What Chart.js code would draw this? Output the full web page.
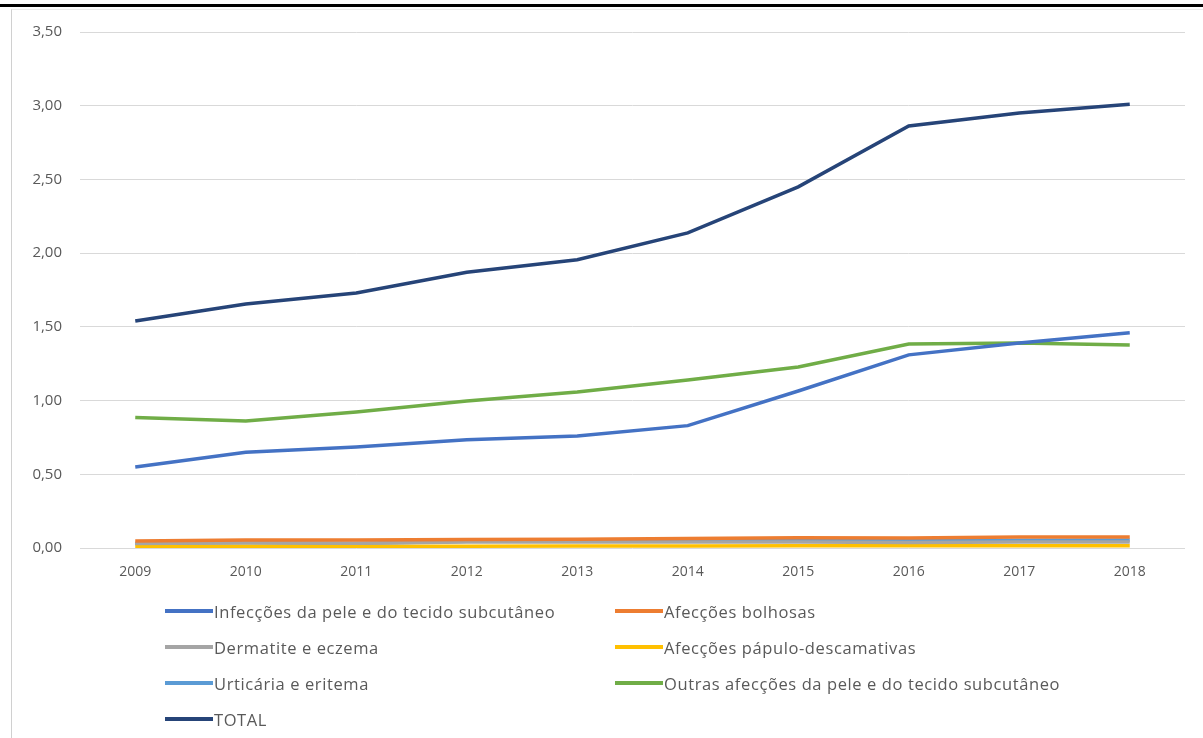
<!DOCTYPE html>
<html>
<head>
<meta charset="utf-8">
<script src="https://cdn.jsdelivr.net/npm/chart.js@4/dist/chart.umd.min.js"></script>
<style>
  html, body { margin:0; padding:0; background:#fff; }
  body { width:1203px; height:738px; position:relative; overflow:hidden; font-family:"Open Sans", sans-serif; }
  #topbar { position:absolute; left:0; top:4px; width:1203px; height:3px; background:#000; }
  #frame { position:absolute; left:11px; top:9px; width:1200px; height:740px; border-left:1px solid #d0d0d0; border-top:1px solid #ececec; }
  #wrap { position:absolute; left:0; top:0; width:1203px; height:738px; }
  #legend { position:absolute; left:0; top:0; width:1203px; height:738px; pointer-events:none; }
  .item { position:absolute; height:22px; display:flex; align-items:center; color:#595959; font-size:16.5px; letter-spacing:0.6px; white-space:nowrap; }
  .item .ln { width:48px; height:3.5px; margin-right:1px; }
</style>
</head>
<body>
<div id="topbar"></div>
<div id="frame"></div>
<div id="wrap"><canvas id="c" width="1203" height="738"></canvas></div>
<div id="legend"></div>
<script>
const years = ["2009","2010","2011","2012","2013","2014","2015","2016","2017","2018"];
const infeccoes = [0.55, 0.65, 0.685, 0.735, 0.76, 0.83, 1.065, 1.31, 1.39, 1.46];
const bolhosas = [0.047, 0.055, 0.055, 0.058, 0.06, 0.065, 0.07, 0.068, 0.074, 0.075];
const dermatite = [0.03, 0.035, 0.033, 0.04, 0.04, 0.04, 0.04, 0.038, 0.04, 0.04];
const papulo = [0.01, 0.012, 0.012, 0.012, 0.013, 0.014, 0.015, 0.015, 0.016, 0.016];
const urticaria = [0.03, 0.035, 0.03, 0.045, 0.047, 0.05, 0.053, 0.05, 0.052, 0.055];
const outras = [0.885, 0.862, 0.922, 0.997, 1.058, 1.14, 1.228, 1.384, 1.39, 1.377];
const total = [1.54, 1.655, 1.73, 1.87, 1.955, 2.137, 2.45, 2.863, 2.95, 3.01];
const yTicks = [0, 0.5, 1, 1.5, 2, 2.5, 3, 3.5];

const seriesNames = ["Infecções da pele e do tecido subcutâneo","Afecções bolhosas","Dermatite e eczema","Afecções pápulo-descamativas","Urticária e eritema","Outras afecções da pele e do tecido subcutâneo","TOTAL"];
const seriesData = [infeccoes, bolhosas, dermatite, papulo, urticaria, outras, total];
const seriesColors = ["#4472C4","#ED7D31","#A5A5A5","#FFC000","#5B9BD5","#70AD47","#264478"];

const datasets = seriesNames.map((n,i)=>({
  label:n, data:seriesData[i], borderColor:seriesColors[i], backgroundColor:seriesColors[i],
  borderWidth:3.5, pointRadius:0, tension:0, fill:false, order: i
}));

const chart = new Chart(document.getElementById('c'), {
  type:'line',
  data:{ labels:years, datasets },
  options:{
    responsive:false, animation:false,
    layout:{ padding:{ left:0, right:18, top:32, bottom:150 } },
    plugins:{ legend:{display:false}, tooltip:{enabled:false} },
    scales:{
      x:{
        offset:true,
        grid:{ display:false, drawTicks:false },
        border:{ display:false },
        ticks:{ color:'#595959', font:{family:'Open Sans', size:14}, padding:16, maxRotation:0 },
        afterFit:(s)=>{ s.height = 40; }
      },
      y:{
        min:0, max:3.5,
        afterBuildTicks:(s)=>{ s.ticks = yTicks.map(v=>({value:v})); },
        grid:{ color:'#d9d9d9', drawTicks:false, lineWidth:1 },
        border:{ display:false },
        ticks:{ color:'#595959', font:{family:'Open Sans', size:15}, padding:18,
          callback:(v)=>Number(v).toFixed(2).replace('.', ',') },
        afterFit:(s)=>{ s.width = 80; }
      }
    }
  }
});

// HTML legend built from chart datasets (two columns)
const legend = document.getElementById('legend');
const colX = [165, 615];
const rowY = [611, 647, 683, 719];
chart.data.datasets.forEach((ds, i)=>{
  const d = document.createElement('div');
  d.className = 'item';
  d.style.left = colX[i % 2] + 'px';
  d.style.top = (rowY[Math.floor(i/2)] - 11) + 'px';
  const ln = document.createElement('span');
  ln.className = 'ln'; ln.style.background = ds.borderColor;
  const t = document.createElement('span');
  t.textContent = ds.label;
  d.appendChild(ln); d.appendChild(t);
  legend.appendChild(d);
});
</script>
</body>
</html>
